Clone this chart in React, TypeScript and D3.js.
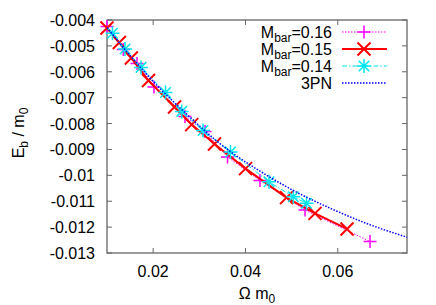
import { useEffect, useRef } from 'react'
import * as d3 from 'd3'

// Ω m0 , Eb / m0
const m016X = [0.0100, 0.01353, 0.01650, 0.02018, 0.02690, 0.03124, 0.03611, 0.04315, 0.05290, 0.06699]
const m016Y = [-0.00425, -0.00514, -0.00568, -0.00659, -0.00773, -0.00831, -0.00929, -0.01020, -0.01134, -0.01256]

const m015X = [0.0100, 0.01267, 0.01527, 0.01899, 0.02463, 0.02835, 0.03329, 0.04001, 0.04889, 0.05507, 0.06201]
const m015Y = [-0.00431, -0.00487, -0.00547, -0.00634, -0.00736, -0.00804, -0.00879, -0.00974, -0.01086, -0.01147, -0.01207]

const m014X = [0.01119, 0.01390, 0.01737, 0.02268, 0.02619, 0.03080, 0.03676, 0.04510, 0.05037, 0.05323]
const m014Y = [-0.00451, -0.00512, -0.00583, -0.00680, -0.00753, -0.00827, -0.00910, -0.01025, -0.01083, -0.01108]

const pnX = [0.0100, 0.01498, 0.02148, 0.02798, 0.03340, 0.03665, 0.04380, 0.05139, 0.05897, 0.06612, 0.0750]
const pnY = [-0.00429, -0.00537, -0.00665, -0.00775, -0.00862, -0.00907, -0.00991, -0.01068, -0.01132, -0.01185, -0.01239]

const xTicks = [0.02, 0.04, 0.06]
const xTickLabels = ['0.02', '0.04', '0.06']
const yTicks = [-0.004, -0.005, -0.006, -0.007, -0.008, -0.009, -0.01, -0.011, -0.012, -0.013]
const yTickLabels = ['-0.004', '-0.005', '-0.006', '-0.007', '-0.008', '-0.009', '-0.01', '-0.011', '-0.012', '-0.013']

const seriesLabels = ['0.16', '0.15', '0.14']

export default function App() {
  const svgRef = useRef<SVGSVGElement | null>(null)

  useEffect(() => {
    if (!svgRef.current) return
    const width = 436
    const height = 305
    const left = 107
    const right = 407
    const top = 20
    const bottom = 253
    const font = 'Liberation Sans, Arial, Helvetica, sans-serif'

    const svg = d3.select(svgRef.current)
    svg.selectAll('*').remove()
    svg.attr('width', width).attr('height', height)

    const x = d3.scaleLinear().domain([0.01, 0.075]).range([left, right])
    const y = d3.scaleLinear().domain([-0.013, -0.004]).range([bottom, top])

    const line = d3.line<[number, number]>().x(d => x(d[0])).y(d => y(d[1]))
    const zip = (a: number[], b: number[]) => a.map((v, i) => [v, b[i]] as [number, number])

    const plus = (s: number) => `M${-s},0H${s}M0,${-s}V${s}`
    const cross = (s: number) => `M${-s},${-s}L${s},${s}M${-s},${s}L${s},${-s}`
    const star = (s: number) => plus(s) + cross(s * 0.75)

    const styles = [
      { color: '#ff00ff', width: 1, dash: '1.5,1.5', marker: plus(6.5), mw: 1.5 },
      { color: '#ff0000', width: 2, dash: null, marker: cross(6.5), mw: 2 },
      { color: '#00e5ee', width: 1, dash: '5,2,1.5,2', marker: star(7), mw: 1.5 },
    ]
    const data = [zip(m016X, m016Y), zip(m015X, m015Y), zip(m014X, m014Y)]

    // frame + ticks
    const g = svg.append('g')
    const tl = 5
    xTicks.forEach((t, i) => {
      g.append('line').attr('x1', x(t)).attr('x2', x(t)).attr('y1', bottom).attr('y2', bottom - tl).attr('stroke', '#666')
      g.append('line').attr('x1', x(t)).attr('x2', x(t)).attr('y1', top).attr('y2', top + tl).attr('stroke', '#666')
      g.append('text').attr('x', x(t)).attr('y', bottom + 24).attr('text-anchor', 'middle')
        .style('font-family', font).style('font-size', '16px').text(xTickLabels[i])
    })
    yTicks.forEach((t, i) => {
      g.append('line').attr('x1', left).attr('x2', left + tl).attr('y1', y(t)).attr('y2', y(t)).attr('stroke', '#666')
      g.append('line').attr('x1', right).attr('x2', right - tl).attr('y1', y(t)).attr('y2', y(t)).attr('stroke', '#666')
      g.append('text').attr('x', 95).attr('y', y(t) + 6).attr('text-anchor', 'end')
        .style('font-family', font).style('font-size', '16px').text(yTickLabels[i])
    })
    g.append('rect').attr('x', left).attr('y', top).attr('width', right - left).attr('height', bottom - top)
      .attr('fill', 'none').attr('stroke', '#666').attr('stroke-width', 1.3)

    // axis labels
    const xl = svg.append('text').attr('x', 257).attr('y', 299).attr('text-anchor', 'middle')
      .style('font-family', font).style('font-size', '16px')
    xl.append('tspan').text('Ω m')
    xl.append('tspan').attr('dy', 4).style('font-size', '12px').text('0')

    const yl = svg.append('text').attr('transform', 'translate(24,133) rotate(-90)').attr('text-anchor', 'middle')
      .style('font-family', font).style('font-size', '16px')
    yl.append('tspan').text('E')
    yl.append('tspan').attr('dy', 4).style('font-size', '12px').text('b')
    yl.append('tspan').attr('dy', -4).text(' / m')
    yl.append('tspan').attr('dy', 4).style('font-size', '12px').text('0')

    // series
    data.forEach((pts, i) => {
      const s = styles[i]
      const p = svg.append('path').attr('d', line(pts)).attr('fill', 'none')
        .attr('stroke', s.color).attr('stroke-width', s.width)
      if (s.dash) p.attr('stroke-dasharray', s.dash)
      svg.append('g').selectAll('path').data(pts).enter().append('path')
        .attr('transform', d => `translate(${x(d[0])},${y(d[1])})`)
        .attr('d', s.marker).attr('fill', 'none').attr('stroke', s.color).attr('stroke-width', s.mw)
    })

    svg.append('path').attr('d', line.curve(d3.curveMonotoneX)(zip(pnX, pnY))).attr('fill', 'none')
      .attr('stroke', '#0000ff').attr('stroke-width', 1.5).attr('stroke-dasharray', '1.5,1.5')

    // legend
    const lx = 332
    const rows = [32, 49, 66, 83]
    seriesLabels.forEach((lab, i) => {
      const s = styles[i]
      const t = svg.append('text').attr('x', lx).attr('y', rows[i] + 6).attr('text-anchor', 'end')
        .style('font-family', font).style('font-size', '16px')
      t.append('tspan').text('M')
      t.append('tspan').attr('dy', 4).style('font-size', '12px').text('bar')
      t.append('tspan').attr('dy', -4).text('=' + lab)
      const p = svg.append('line').attr('x1', 342).attr('x2', 387).attr('y1', rows[i]).attr('y2', rows[i])
        .attr('stroke', s.color).attr('stroke-width', s.width)
      if (s.dash) p.attr('stroke-dasharray', s.dash)
      svg.append('path').attr('transform', `translate(364,${rows[i]})`).attr('d', s.marker)
        .attr('fill', 'none').attr('stroke', s.color).attr('stroke-width', s.mw)
    })
    svg.append('text').attr('x', lx).attr('y', rows[3] + 6).attr('text-anchor', 'end')
      .style('font-family', font).style('font-size', '16px').text('3PN')
    svg.append('line').attr('x1', 342).attr('x2', 387).attr('y1', rows[3]).attr('y2', rows[3])
      .attr('stroke', '#0000ff').attr('stroke-width', 1.5).attr('stroke-dasharray', '1.5,1.5')
  }, [])

  return (
    <div style={{ position: 'absolute', left: 0, top: 0 }}>
      <svg ref={svgRef}></svg>
    </div>
  )
}
